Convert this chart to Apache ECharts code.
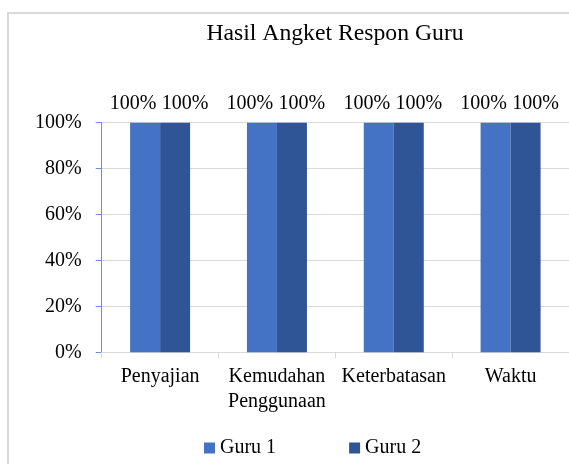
<!DOCTYPE html>
<html>
<head>
<meta charset="utf-8">
<script src="https://cdn.jsdelivr.net/npm/echarts@6/dist/echarts.min.js"></script>
<style>
  html, body { margin: 0; padding: 0; background: #fff; }
  #chart { width: 569px; height: 464px; }
</style>
</head>
<body>
<div id="chart"></div>
<script>
// data
const categories = ["Penyajian", "Kemudahan\nPenggunaan", "Keterbatasan", "Waktu"];
const guru1 = [100, 100, 100, 100];
const guru2 = [100, 100, 100, 100];
const yTicks = [0, 20, 40, 60, 80, 100];

const fontFamily = "'Liberation Serif', 'Times New Roman', serif";

const chart = echarts.init(document.getElementById("chart"));

const barLabel = (offsetX) => ({
  show: true,
  position: "top",
  distance: 9,
  offset: [offsetX, 0],
  formatter: "{c}%",
  color: "#000",
  fontFamily: fontFamily,
  fontSize: 20,
});

const option = {
  backgroundColor: "#fff",
  animation: false,
  graphic: [
    {
      // bingkai luar
      type: "rect",
      shape: { x: 8, y: 13, width: 620, height: 520 },
      style: { fill: "none", stroke: "#D9D9D9", lineWidth: 2 },
      silent: true,
    },
  ],
  title: {
    text: "Hasil Angket Respon Guru",
    left: 330,
    top: 17,
    textAlign: "center",
    textStyle: {
      fontFamily: fontFamily,
      fontSize: 23.7,
      fontWeight: "normal",
      color: "#000",
    },
  },
  legend: {
    left: 199,
    bottom: 1,
    itemWidth: 11,
    itemHeight: 11,
    itemGap: 73,
    icon: "rect",
    textStyle: { fontFamily: fontFamily, fontSize: 20, color: "#000" },
    data: ["Guru 1", "Guru 2"],
  },
  grid: {
    left: 101.7,
    right: -4.7,
    top: 122.7,
    bottom: 111.7,
    containLabel: false,
  },
  xAxis: {
    type: "category",
    data: categories,
    axisLine: { lineStyle: { color: "#D9D9D9", width: 1 } },
    axisTick: { show: true, length: 6, lineStyle: { color: "#D9D9D9" } },
    axisLabel: {
      margin: 12,
      interval: 0,
      color: "#000",
      fontFamily: fontFamily,
      fontSize: 20,
      lineHeight: 25,
    },
  },
  yAxis: {
    type: "value",
    min: yTicks[0],
    max: yTicks[yTicks.length - 1],
    interval: 20,
    axisLine: { show: true, lineStyle: { color: "#6B8FD4", width: 1 } },
    axisTick: { show: true, length: 6, lineStyle: { color: "#6B8FD4" } },
    axisLabel: {
      margin: 20,
      formatter: "{value}%",
      color: "#000",
      fontFamily: fontFamily,
      fontSize: 20,
    },
    splitLine: { lineStyle: { color: "#D9D9D9", width: 1 } },
  },
  series: [
    {
      name: "Guru 1",
      type: "bar",
      data: guru1,
      barWidth: 30,
      barGap: "0%",
      itemStyle: { color: "#4472C4" },
      label: barLabel(-12),
    },
    {
      name: "Guru 2",
      type: "bar",
      data: guru2,
      barWidth: 30,
      barGap: "0%",
      itemStyle: { color: "#2F5597" },
      label: barLabel(10),
    },
  ],
};

chart.setOption(option);

window.addEventListener("resize", () => {
  chart.resize();
});
</script>
</body>
</html>
